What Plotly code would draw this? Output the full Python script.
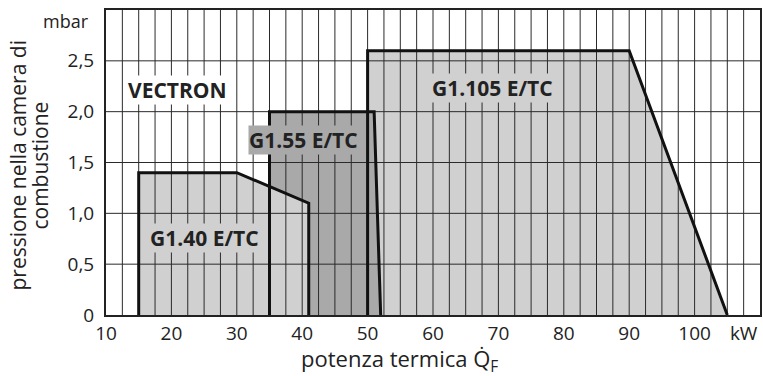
import plotly.graph_objects as go

# --- data ---
g1105_x = [50, 50, 90, 105]
g1105_y = [0, 2.6, 2.6, 0]
g155_x = [35, 35, 51, 52]
g155_y = [0, 2.0, 2.0, 0]
g140_x = [15, 15, 30, 41, 41]
g140_y = [0, 1.4, 1.4, 1.1, 0]

x_ticks = [10, 20, 30, 40, 50, 60, 70, 80, 90, 100, 107.5]
x_ticktext = ["10", "20", "30", "40", "50", "60", "70", "80", "90", "100", "kW"]
y_ticks = [0, 0.5, 1.0, 1.5, 2.0, 2.5]
y_ticktext = ["0", "0,5", "1,0", "1,5", "2,0", "2,5"]
x_grid = [10 + 2.5 * i for i in range(1, 40)]
y_grid = [0.5, 1.0, 1.5, 2.0, 2.5]

labels = ["VECTRON", "G1.55 E/TC", "G1.40 E/TC", "G1.105 E/TC"]
label_x = [21, 40.2, 25.1, 69.1]
label_y = [2.21, 1.72, 0.76, 2.23]
label_bg = ["white", "#a9a9a9", "#d0d0d0", "#d0d0d0"]

y_title_lines = ["pressione nella camera di", "combustione"]
x_title = "potenza termica Q̇<sub>F</sub>"

LIGHT = "#d0d0d0"
DARK = "#a9a9a9"
FONT = "Open Sans"
TXT = "#222222"

fig = go.Figure()

# fills (bottom to top)
for xs, ys, col in [(g1105_x, g1105_y, LIGHT), (g155_x, g155_y, DARK), (g140_x, g140_y, LIGHT)]:
    fig.add_trace(go.Scatter(x=xs, y=ys, fill="toself", fillcolor=col, mode="none",
                             hoverinfo="skip", showlegend=False))

# grid lines above fills
gx, gy = [], []
for v in x_grid:
    gx += [v, v, None]
    gy += [0, 3, None]
for v in y_grid:
    gx += [10, 110, None]
    gy += [v, v, None]
fig.add_trace(go.Scatter(x=gx, y=gy, mode="lines", line=dict(color="#2a2a2a", width=1),
                         hoverinfo="skip", showlegend=False))

# outlines
for xs, ys in [(g1105_x, g1105_y), (g155_x, g155_y), (g140_x, g140_y)]:
    fig.add_trace(go.Scatter(x=xs, y=ys, mode="lines", line=dict(color="#111111", width=3),
                             hoverinfo="skip", showlegend=False))

for t, x, y, bg in zip(labels, label_x, label_y, label_bg):
    fig.add_annotation(x=x, y=y, text="<b>" + t + "</b>", showarrow=False, bgcolor=bg,
                       font=dict(family=FONT, size=21, color=TXT), borderpad=0)

fig.add_annotation(x=0, xref="paper", xanchor="right", xshift=-15, y=2.894, yref="y",
                   text="mbar", showarrow=False, font=dict(family=FONT, size=18, color=TXT))
for line, shift in zip(y_title_lines, [-88, -66]):
    fig.add_annotation(x=0, xref="paper", xshift=shift, xanchor="center", y=0.49, yref="paper",
                       yanchor="middle", text=line, textangle=-90, showarrow=False,
                       font=dict(family=FONT, size=21, color=TXT))
fig.add_annotation(x=39.5, xref="x", xanchor="left", y=0, yref="paper", yshift=-45,
                   yanchor="middle", text=x_title, showarrow=False,
                   font=dict(family=FONT, size=22, color=TXT))

fig.update_layout(
    width=763, height=376,
    margin=dict(l=106, r=1, t=10, b=61),
    paper_bgcolor="white", plot_bgcolor="white",
    xaxis=dict(range=[10, 110], tickvals=x_ticks, ticktext=x_ticktext, showgrid=False,
               zeroline=False, showline=True, linecolor="#222222", linewidth=2, mirror=True,
               tickfont=dict(family=FONT, size=19, color=TXT), ticks="", ticklabelstandoff=0),
    yaxis=dict(range=[0, 3], tickvals=y_ticks, ticktext=y_ticktext, showgrid=False,
               zeroline=False, showline=True, linecolor="#222222", linewidth=2, mirror=True,
               tickfont=dict(family=FONT, size=19, color=TXT), ticks="",
               ticklabelstandoff=6),
)
fig.write_html("out.html", config={"displayModeBar": False},
               post_script="document.body.style.margin='0';")
